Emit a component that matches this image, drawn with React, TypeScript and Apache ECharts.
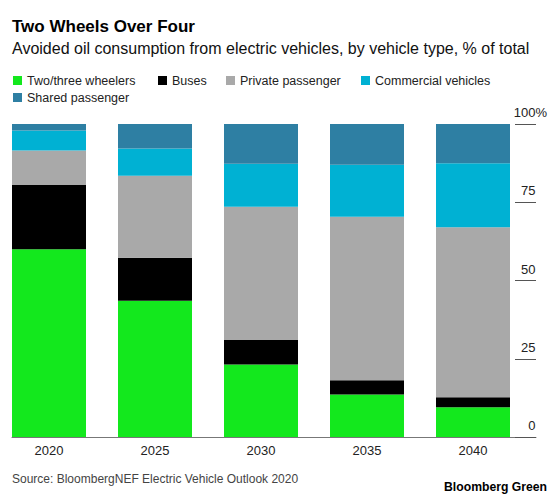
import React, { useEffect, useRef } from "react";
import * as echarts from "echarts";

const years = ["2020", "2025", "2030", "2035", "2040"];
const twoThreeWheelers = [60.0, 43.5, 23.2, 13.6, 9.5];
const buses = [20.5, 13.8, 7.8, 4.5, 3.2];
const privatePassenger = [11.0, 26.2, 42.6, 52.3, 54.3];
const commercialVehicles = [6.4, 8.7, 13.7, 16.6, 20.5];
const sharedPassenger = [2.1, 7.8, 12.7, 13.0, 12.5];
const seriesNames = [
  "Two/three wheelers",
  "Buses",
  "Private passenger",
  "Commercial vehicles",
  "Shared passenger",
];
const seriesColors = ["#13e81d", "#000000", "#a9a9a9", "#00b1d3", "#2e7fa3"];
const yTicks = [0, 25, 50, 75, 100];

const FONT = "'Liberation Sans', Arial, Helvetica, sans-serif";

export default function App() {
  const ref = useRef<HTMLDivElement>(null);

  useEffect(() => {
    if (!ref.current) return;
    const chart = echarts.init(ref.current, null, { renderer: "svg" });
    const values = [twoThreeWheelers, buses, privatePassenger, commercialVehicles, sharedPassenger];

    const legendPos = [
      { left: 13, top: 74 },
      { left: 158, top: 74 },
      { left: 226, top: 74 },
      { left: 361, top: 74 },
      { left: 13, top: 91 },
    ];

    const barSeries = seriesNames.map((name, i) => ({
      name,
      type: "bar",
      stack: "total",
      xAxisIndex: 0,
      yAxisIndex: 0,
      barWidth: 74,
      itemStyle: { color: seriesColors[i] },
      data: values[i],
    }));

    const tickSeries = {
      name: "ticks",
      type: "line",
      xAxisIndex: 2,
      yAxisIndex: 2,
      data: [],
      silent: true,
      symbol: "none",
      markLine: {
        silent: true,
        symbol: ["none", "none"],
        label: { show: false },
        lineStyle: { color: "#555555", width: 1, type: "solid", opacity: 1 },
        emphasis: { disabled: true },
        data: yTicks.map((v) => ({ yAxis: v })),
      },
    };

    const option: any = {
      animation: false,
      backgroundColor: "#ffffff",
      textStyle: { fontFamily: FONT },
      title: [
        {
          text: "Two Wheels Over Four",
          left: 12,
          top: 16,
          padding: 0,
          textStyle: { fontFamily: FONT, fontSize: 17, fontWeight: "bold", color: "#000", lineHeight: 20 },
        },
        {
          text: "Avoided oil consumption from electric vehicles, by vehicle type, % of total",
          left: 12,
          top: 39,
          padding: 0,
          textStyle: { fontFamily: FONT, fontSize: 16, fontWeight: "normal", color: "#111", lineHeight: 18 },
        },
        {
          text: "Source: BloombergNEF Electric Vehicle Outlook 2020",
          left: 12,
          top: 472,
          padding: 0,
          textStyle: { fontFamily: FONT, fontSize: 12, fontWeight: "normal", color: "#444", lineHeight: 14 },
        },
        {
          text: "Bloomberg Green",
          right: 13,
          top: 480,
          padding: 0,
          textStyle: { fontFamily: FONT, fontSize: 12.2, fontWeight: "bold", color: "#000", lineHeight: 14 },
        },
      ],
      legend: seriesNames.map((name, i) => ({
        data: [name],
        left: legendPos[i].left,
        top: legendPos[i].top,
        padding: 0,
        icon: "rect",
        itemWidth: 9,
        itemHeight: 9,
        selectedMode: false,
        textStyle: { fontFamily: FONT, fontSize: 12.5, color: "#222" },
      })),
      grid: [
        { left: -4, width: 530, top: 124, bottom: 61, outerBoundsMode: "none", containLabel: false },
        { left: 12, right: 24, top: 124, bottom: 61, outerBoundsMode: "none", containLabel: false },
        { left: 515, width: 21, top: 124, bottom: 61, outerBoundsMode: "none", containLabel: false },
      ],
      xAxis: [
        {
          type: "category",
          gridIndex: 0,
          data: years,
          axisLine: { show: false },
          axisTick: { show: false },
          axisLabel: { margin: 7, fontFamily: FONT, fontSize: 13, color: "#222" },
        },
        {
          type: "value",
          gridIndex: 1,
          min: 0,
          max: 1,
          axisLine: { show: true, onZero: false, lineStyle: { color: "#777", width: 1 } },
          axisTick: { show: false },
          axisLabel: { show: false },
          splitLine: { show: false },
        },
        {
          type: "value",
          gridIndex: 2,
          min: 0,
          max: 1,
          axisLine: { show: false },
          axisTick: { show: false },
          axisLabel: { show: false },
          splitLine: { show: false },
        },
      ],
      yAxis: [
        {
          type: "value",
          gridIndex: 0,
          min: 0,
          max: 100,
          show: false,
        },
        {
          type: "value",
          gridIndex: 1,
          min: 0,
          max: 100,
          show: false,
        },
        {
          type: "value",
          gridIndex: 2,
          position: "right",
          min: 0,
          max: 100,
          interval: 25,
          axisLine: { show: false, onZero: false },
          axisTick: { show: false },
          splitLine: { show: true, lineStyle: { color: "#555555", width: 1 } },
          axisLabel: {
            margin: 11,
            align: "right",
            verticalAlign: "bottom",
            padding: [0, 0, 5, 0],
            fontFamily: FONT,
            fontSize: 13,
            color: "#222",
            formatter: (v: number) => (yTicks.includes(v) ? (v === 100 ? `${v}{p|%}` : `${v}{h|%}`) : ""),
            rich: {
              p: { fontFamily: FONT, fontSize: 13, color: "#222" },
              h: { fontFamily: FONT, fontSize: 13, color: "rgba(0,0,0,0)" },
            },
          },
        },
      ],
      series: [...barSeries, tickSeries],
    };

    chart.setOption(option);
    return () => chart.dispose();
  }, []);

  return (
    <div
      ref={ref}
      style={{ position: "fixed", left: 0, top: 0, width: 560, height: 498, background: "#fff" }}
    />
  );
}
